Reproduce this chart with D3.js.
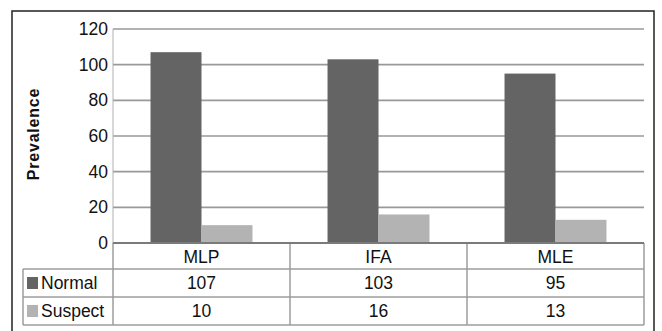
<!DOCTYPE html>
<html>
<head>
<meta charset="utf-8">
<script src="https://cdn.jsdelivr.net/npm/d3@7"></script>
<style>
  body { margin: 0; background: #fff; }
  text { font-family: "Liberation Sans", Arial, sans-serif; fill: #111; }
</style>
</head>
<body>
<script>
const categories = ["MLP", "IFA", "MLE"];
const seriesNames = ["Normal", "Suspect"];
const normalValues = [107, 103, 95];
const suspectValues = [10, 16, 13];
const yTicks = [0, 20, 40, 60, 80, 100, 120];
const colors = ["#646464", "#b3b3b3"];

const width = 662;
const height = 331;
const plotLeft = 113;
const plotRight = 644;
const plotTop = 29;
const plotBot = 243;
const tableLeft = 23;
const rowH = [26, 28, 28];

const series = [normalValues, suspectValues];

const svg = d3.select("body").append("svg")
    .attr("width", width).attr("height", height);

// outer frame
svg.append("rect")
    .attr("x", 12).attr("y", 11).attr("width", 642).attr("height", 330)
    .attr("fill", "none").attr("stroke", "#222").attr("stroke-width", 1.5);

const xScale = d3.scaleBand().domain(categories)
    .range([plotLeft, plotRight]).paddingInner(0.424).paddingOuter(0.212);
const xStep = d3.scaleBand().domain(categories).range([plotLeft, plotRight]);
const xSub = d3.scaleBand().domain(seriesNames).range([0, xScale.bandwidth()]);
const yScale = d3.scaleLinear().domain([0, 120]).range([plotBot, plotTop]);

// gridlines
svg.append("g").selectAll("line").data(yTicks.filter(d => d > 0)).enter().append("line")
    .attr("x1", plotLeft).attr("x2", plotRight)
    .attr("y1", d => yScale(d)).attr("y2", d => yScale(d))
    .attr("stroke", "#999").attr("stroke-width", 1.6);

svg.append("line")
    .attr("x1", plotLeft).attr("x2", plotLeft)
    .attr("y1", plotTop).attr("y2", plotBot)
    .attr("stroke", "#b0b0b0").attr("stroke-width", 1);

// y axis labels
const yAxis = d3.axisLeft(yScale).tickValues(yTicks).tickSize(0).tickPadding(5);
const yg = svg.append("g").attr("transform", "translate(" + plotLeft + ",0)").call(yAxis);
yg.select(".domain").remove();
yg.selectAll("text").style("font-size", "17.5px").attr("fill", "#111")
    .style("font-family", "'Liberation Sans', Arial, sans-serif");

// bars
categories.forEach((c, i) => {
    seriesNames.forEach((s, j) => {
        svg.append("rect")
            .attr("x", xScale(c) + xSub(s))
            .attr("y", yScale(series[j][i]))
            .attr("width", xSub.bandwidth())
            .attr("height", plotBot - yScale(series[j][i]))
            .attr("fill", colors[j]);
    });
});

// y title
svg.append("text")
    .attr("transform", "translate(39," + 134 + ") rotate(-90)")
    .attr("text-anchor", "middle")
    .style("font-size", "16px").style("font-weight", "bold")
    .style("letter-spacing", "0.8px")
    .text("Prevalence");

// data table
const tableColor = "#9c9c9c";
const rowY = [plotBot, plotBot + rowH[0], plotBot + rowH[0] + rowH[1], plotBot + rowH[0] + rowH[1] + rowH[2]];
const tg = svg.append("g");

// horizontal lines
tg.append("line").attr("x1", tableLeft).attr("x2", plotRight)
    .attr("y1", rowY[1]).attr("y2", rowY[1]).attr("stroke", tableColor).attr("stroke-width", 1.5);
tg.append("line").attr("x1", tableLeft).attr("x2", plotRight)
    .attr("y1", rowY[2]).attr("y2", rowY[2]).attr("stroke", tableColor).attr("stroke-width", 1.5);
tg.append("line").attr("x1", tableLeft).attr("x2", plotRight)
    .attr("y1", rowY[3]).attr("y2", rowY[3]).attr("stroke", tableColor).attr("stroke-width", 1.5);
// verticals
tg.append("line").attr("x1", tableLeft).attr("x2", tableLeft)
    .attr("y1", rowY[1]).attr("y2", rowY[3]).attr("stroke", tableColor).attr("stroke-width", 1.5);
tg.selectAll("line.col").data(categories.map(c => xStep(c)).concat([plotRight])).enter().append("line")
    .attr("x1", d => d).attr("x2", d => d)
    .attr("y1", plotBot).attr("y2", rowY[3])
    .attr("stroke", tableColor).attr("stroke-width", 1.5);

// zero axis line
svg.append("line")
    .attr("x1", plotLeft).attr("x2", plotRight)
    .attr("y1", plotBot).attr("y2", plotBot)
    .attr("stroke", "#7a7a7a").attr("stroke-width", 2);

// category labels
tg.selectAll("text.cat").data(categories).enter().append("text")
    .attr("x", d => xStep(d) + xStep.bandwidth() / 2)
    .attr("y", rowY[0] + 20)
    .attr("text-anchor", "middle").style("font-size", "17.5px")
    .text(d => d);

// series rows
seriesNames.forEach((s, j) => {
    const y0 = rowY[j + 1];
    tg.append("rect").attr("x", 27).attr("y", y0 + 8).attr("width", 11).attr("height", 12)
        .attr("fill", colors[j]);
    tg.append("text").attr("x", 41).attr("y", y0 + 20)
        .style("font-size", "17.5px").text(s);
    tg.selectAll("text.v" + j).data(series[j]).enter().append("text")
        .attr("x", (d, i) => xStep(categories[i]) + xStep.bandwidth() / 2)
        .attr("y", y0 + 20)
        .attr("text-anchor", "middle").style("font-size", "17.5px")
        .text(d => d);
});
</script>
</body>
</html>
